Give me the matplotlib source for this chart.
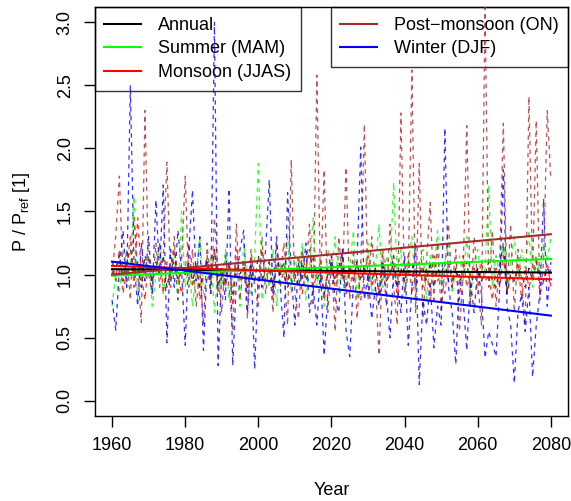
import numpy as np
import matplotlib
matplotlib.use("Agg")
import matplotlib.pyplot as plt

plt.rcParams["font.family"] = ["Liberation Sans", "DejaVu Sans"]

years = np.arange(1960, 2081)

annual = [1.00, 1.05, 1.15, 0.95, 1.10, 1.20, 1.00, 1.10, 0.90, 1.15,
          1.05, 0.95, 1.10, 1.00, 1.15, 0.90, 1.05, 1.10, 0.95, 1.05,
          1.00, 1.10, 0.95, 1.05, 0.90, 1.00, 1.10, 0.95, 1.20, 0.90,
          1.05, 0.95, 1.10, 0.85, 1.05, 1.00, 1.10, 0.90, 1.05, 0.95,
          1.15, 0.95, 1.05, 1.10, 0.90, 1.05, 1.00, 1.10, 0.95, 1.05,
          1.00, 0.90, 1.10, 0.95, 1.05, 1.15, 0.95, 1.05, 0.85, 1.00,
          1.05, 0.95, 1.10, 1.00, 0.90, 1.05, 1.00, 1.10, 0.95, 1.05,
          1.00, 0.95, 1.05, 0.85, 1.10, 0.95, 1.00, 1.15, 0.90, 1.05,
          0.95, 1.05, 1.10, 0.90, 1.00, 1.05, 0.95, 1.10, 0.90, 1.05,
          1.00, 1.10, 0.95, 0.90, 1.05, 0.95, 1.00, 1.10, 0.90, 1.00,
          1.05, 0.95, 1.00, 1.10, 0.95, 0.90, 1.05, 1.25, 0.85, 1.00,
          0.95, 1.05, 1.00, 0.90, 1.05, 0.95, 1.10, 1.00, 0.95, 1.05,
          1.00]

summer = [0.75, 1.00, 0.85, 1.20, 0.90, 1.10, 1.62, 0.80, 1.05, 0.95,
          1.15, 0.75, 1.00, 1.25, 0.85, 1.05, 0.95, 1.20, 0.80, 1.50,
          0.90, 1.10, 0.75, 1.00, 1.30, 0.85, 0.95, 1.15, 0.70, 1.05,
          0.90, 1.20, 0.80, 1.00, 1.10, 0.75, 1.25, 0.95, 0.85, 1.15,
          1.88, 0.80, 1.05, 0.90, 1.20, 0.75, 1.10, 1.00, 1.30, 0.85,
          1.15, 0.95, 1.25, 0.80, 1.05, 1.45, 0.90, 1.10, 0.75, 1.20,
          1.00, 1.30, 0.85, 1.15, 0.95, 1.05, 1.35, 0.80, 1.10, 1.00,
          1.25, 0.85, 1.05, 1.40, 0.90, 1.15, 1.00, 1.73, 0.95, 1.20,
          0.85, 1.10, 1.30, 0.90, 1.05, 1.20, 0.80, 1.15, 1.00, 1.35,
          0.90, 1.10, 1.25, 0.85, 1.05, 1.15, 0.95, 1.30, 0.80, 1.10,
          1.20, 0.95, 1.05, 1.71, 0.90, 1.15, 1.00, 1.25, 0.85, 1.10,
          1.30, 0.95, 1.20, 1.05, 1.35, 0.90, 1.15, 1.00, 1.25, 1.10,
          1.30]

monsoon = [1.10, 0.95, 1.20, 0.85, 1.05, 1.30, 0.90, 1.45, 1.00, 0.80,
           1.15, 0.95, 1.05, 1.25, 0.85, 1.10, 0.90, 1.20, 1.00, 0.85,
           1.05, 1.25, 0.90, 1.10, 0.80, 1.00, 1.15, 0.95, 1.20, 0.85,
           1.05, 0.90, 1.10, 0.75, 1.20, 0.95, 1.05, 0.85, 1.15, 1.00,
           0.90, 1.20, 0.95, 1.05, 0.80, 1.10, 1.00, 1.25, 0.90, 1.05,
           0.95, 1.15, 0.85, 1.05, 1.20, 0.90, 1.00, 1.10, 0.80, 1.05,
           1.15, 0.90, 1.00, 1.20, 0.85, 1.05, 0.95, 1.10, 0.80, 1.00,
           1.15, 0.90, 1.05, 0.85, 1.20, 0.95, 1.00, 1.10, 0.80, 1.05,
           0.95, 1.15, 0.85, 1.00, 1.10, 0.90, 1.05, 0.80, 1.15, 0.95,
           1.00, 0.85, 1.10, 0.95, 1.05, 0.80, 1.15, 0.90, 1.00, 1.05,
           0.85, 1.10, 0.95, 1.00, 0.80, 1.05, 0.90, 1.15, 0.85, 1.00,
           0.95, 1.10, 0.80, 1.05, 0.90, 1.00, 1.15, 0.85, 0.95, 1.10,
           0.90]

post_monsoon = [1.00, 1.30, 1.78, 0.95, 1.20, 0.80, 1.45, 1.05, 0.62, 2.30,
                1.00, 0.85, 1.25, 0.90, 1.15, 1.89, 0.95, 1.30, 0.80, 1.10,
                1.78, 0.90, 1.20, 0.75, 1.05, 0.60, 1.25, 0.85, 1.45, 1.00,
                0.70, 1.15, 0.90, 0.55, 1.40, 0.80, 1.10, 0.65, 1.20, 0.90,
                0.75, 1.30, 0.85, 1.10, 0.70, 1.25, 0.90, 1.05, 0.60, 1.91,
                0.85, 0.65, 1.20, 1.00, 1.40, 0.75, 2.58, 0.90, 1.83, 0.70,
                1.10, 0.55, 1.30, 0.95, 1.85, 0.80, 1.20, 0.65, 1.05, 2.19,
                0.80, 1.30, 0.95, 0.36, 1.15, 0.75, 1.40, 0.90, 0.60, 2.28,
                0.85, 1.00, 2.62, 0.70, 1.88, 0.65, 1.10, 1.57, 0.80, 1.25,
                0.70, 1.05, 1.40, 0.90, 1.20, 0.55, 1.00, 2.18, 0.75, 1.30,
                0.95, 0.60, 3.15, 0.90, 1.35, 0.75, 1.10, 2.20, 0.85, 1.40,
                0.70, 1.20, 0.95, 0.60, 2.41, 1.00, 2.22, 0.80, 1.10, 2.30,
                1.75]

winter = [0.80, 0.56, 1.05, 1.35, 0.90, 2.50, 1.10, 0.75, 1.25, 0.95,
          1.30, 0.85, 1.59, 1.00, 1.71, 0.46, 1.20, 0.90, 1.35, 1.05,
          0.44, 1.20, 1.67, 0.95, 1.30, 0.40, 1.10, 0.85, 3.00, 0.28,
          1.05, 0.80, 1.68, 0.28, 0.95, 1.20, 1.35, 0.70, 1.10, 0.25,
          1.00, 0.90, 1.20, 1.75, 0.85, 1.30, 0.90, 0.50, 1.65, 1.00,
          0.60, 1.10, 0.95, 1.25, 0.70, 0.90, 0.60, 1.05, 0.36, 0.85,
          1.15, 0.80, 0.70, 1.20, 0.55, 0.35, 0.95, 1.10, 2.01, 0.80,
          1.00, 0.65, 0.90, 0.75, 1.10, 0.85, 0.50, 1.05, 0.90, 0.70,
          1.15, 0.44, 0.90, 1.25, 0.13, 0.80, 0.60, 0.95, 0.42, 0.75,
          0.60, 2.16, 0.90, 0.70, 0.29, 1.00, 0.80, 0.40, 0.95, 0.70,
          1.05, 0.85, 0.34, 0.55, 0.45, 0.35, 0.90, 1.83, 0.75, 0.60,
          0.14, 0.70, 0.85, 0.55, 0.90, 0.19, 0.60, 0.85, 1.60, 0.75,
          1.10]

# linear trend values at 1960 and 2080
trend_start = [1.043, 0.992, 1.069, 1.00, 1.103]
trend_end = [1.016, 1.124, 0.963, 1.32, 0.675]

labels = ["Annual", "Summer (MAM)", "Monsoon (JJAS)",
          "Post\u2212monsoon (ON)", "Winter (DJF)"]
colors = ["#000000", "#00FF00", "#FF0000", "#A52A2A", "#0000FF"]
series = [annual, summer, monsoon, post_monsoon, winter]

fig = plt.figure(figsize=(5.71, 5.01), dpi=100)
ax = fig.add_axes([0.1655, 0.1697, 0.83, 0.8163])

for vals, c in zip(series, colors):
    ax.plot(years, vals, color=c, lw=0.9, ls=(0, (3.5, 3.5)), alpha=0.8,
            zorder=3)

handles = []
for s, e, c in zip(trend_start, trend_end, colors):
    h, = ax.plot([1960, 2080], [s, e], color=c, lw=1.5, zorder=4)
    handles.append(h)

ax.set_xlim(1955.2, 2084.8)
ax.set_ylim(-0.12, 3.12)
ax.set_xticks([1960, 1980, 2000, 2020, 2040, 2060, 2080])
ax.set_yticks([0.0, 0.5, 1.0, 1.5, 2.0, 2.5, 3.0])
ax.set_yticklabels(["0.0", "0.5", "1.0", "1.5", "2.0", "2.5", "3.0"],
                   rotation=90, va="center")
ax.tick_params(direction="out", length=8, width=1, labelsize=13, pad=7)
for sp in ax.spines.values():
    sp.set_linewidth(1)
ax.set_xlabel("Year", fontsize=13, labelpad=20)
ax.set_ylabel(r"P / P$_\mathregular{ref}$ [1]", fontsize=13, labelpad=18)

# legends: open boxes, the data lines show through as in the original
leg_kw = dict(fontsize=13, frameon=True, fancybox=False, edgecolor="black",
              facecolor="none", framealpha=None, borderaxespad=0,
              handlelength=2.0, handletextpad=0.95, borderpad=0.55,
              labelspacing=0.36)
leg1 = ax.legend(handles[:3], labels[:3], loc="upper left", **leg_kw)
leg1.get_frame().set_linewidth(1)
leg1.set_zorder(2)
ax.add_artist(leg1)
leg2 = ax.legend(handles[3:], labels[3:], loc="upper right", **leg_kw)
leg2.get_frame().set_linewidth(1)
leg2.set_zorder(2)

fig.savefig("out.png", dpi=100)
